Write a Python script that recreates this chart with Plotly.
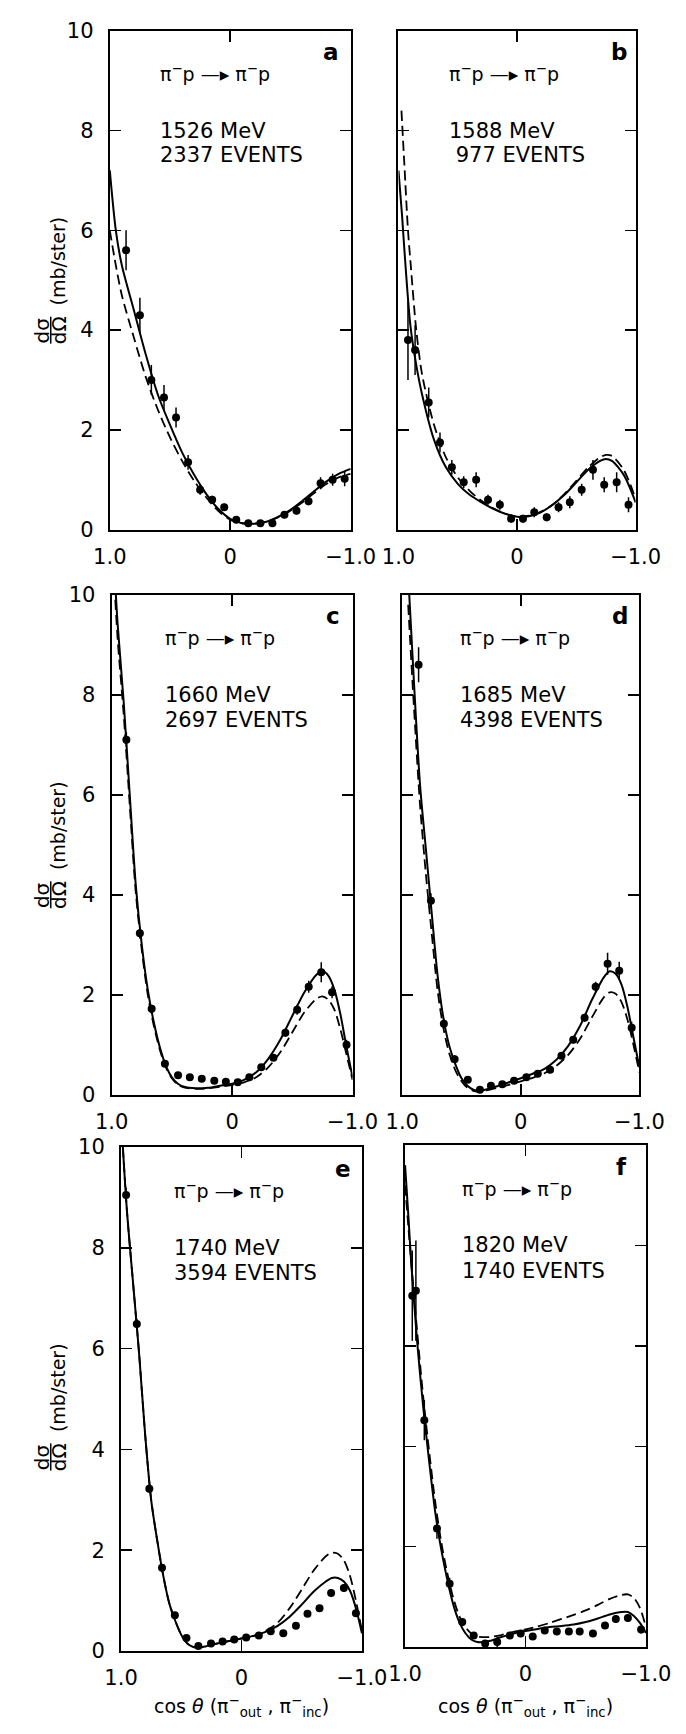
import plotly.graph_objects as go

W, H = 686, 1734

# ---------------- data ----------------
panel_ids = ["a", "b", "c", "d", "e", "f"]
energies = ["1526 MeV", "1588 MeV", "1660 MeV", "1685 MeV", "1740 MeV", "1820 MeV"]
events = ["2337 EVENTS", " 977 EVENTS", "2697 EVENTS", "4398 EVENTS", "3594 EVENTS", "1740 EVENTS"]

# panel a (1526 MeV)
a_px = [0.865, 0.75, 0.655, 0.55, 0.45, 0.35, 0.25, 0.15, 0.05, -0.05, -0.15, -0.25, -0.35, -0.45, -0.55, -0.65, -0.75, -0.85, -0.95]
a_py = [5.6, 4.3, 3.0, 2.65, 2.25, 1.35, 0.8, 0.6, 0.45, 0.2, 0.13, 0.13, 0.13, 0.3, 0.38, 0.57, 0.93, 1.0, 1.02]
a_pe = [0.4, 0.35, 0.3, 0.25, 0.2, 0.15, 0.1, 0.08, 0.07, 0.05, 0.05, 0.05, 0.05, 0.06, 0.07, 0.08, 0.12, 0.12, 0.15]
a_cx = [1.0, 0.95, 0.9, 0.8, 0.7, 0.6, 0.5, 0.4, 0.3, 0.2, 0.1, 0.0, -0.1, -0.2, -0.3, -0.4, -0.5, -0.6, -0.7, -0.8, -0.9, -1.0]
a_solid = [7.2, 6.0, 5.3, 4.4, 3.5, 2.7, 2.1, 1.55, 1.1, 0.72, 0.42, 0.22, 0.13, 0.12, 0.16, 0.26, 0.4, 0.58, 0.78, 0.97, 1.12, 1.22]
a_dash = [6.0, 5.3, 4.7, 3.85, 3.05, 2.4, 1.85, 1.38, 0.98, 0.65, 0.38, 0.2, 0.13, 0.12, 0.16, 0.25, 0.38, 0.55, 0.74, 0.92, 1.05, 1.12]

# panel b (1588 MeV)
b_px = [0.92, 0.86, 0.745, 0.65, 0.55, 0.45, 0.345, 0.245, 0.145, 0.05, -0.05, -0.145, -0.25, -0.35, -0.445, -0.545, -0.64, -0.735, -0.84, -0.94]
b_py = [3.8, 3.6, 2.55, 1.75, 1.25, 0.95, 1.0, 0.6, 0.5, 0.22, 0.22, 0.35, 0.25, 0.45, 0.55, 0.8, 1.2, 0.9, 0.95, 0.5]
b_pe = [0.8, 0.5, 0.3, 0.2, 0.15, 0.12, 0.15, 0.1, 0.1, 0.08, 0.08, 0.1, 0.08, 0.1, 0.12, 0.12, 0.2, 0.15, 0.2, 0.15]
b_sx = [1.0, 0.97, 0.95, 0.9, 0.85, 0.8, 0.7, 0.6, 0.5, 0.4, 0.3, 0.2, 0.1, 0.0, -0.1, -0.2, -0.3, -0.4, -0.5, -0.6, -0.7, -0.75, -0.8, -0.9, -1.0]
b_solid = [7.2, 6.3, 5.6, 4.1, 3.3, 2.7, 1.8, 1.25, 0.92, 0.7, 0.55, 0.42, 0.32, 0.26, 0.27, 0.35, 0.5, 0.7, 0.95, 1.2, 1.38, 1.42, 1.38, 1.1, 0.55]
b_dx = [0.975, 0.95, 0.92, 0.9, 0.85, 0.8, 0.7, 0.6, 0.5, 0.4, 0.3, 0.2, 0.1, 0.0, -0.1, -0.2, -0.3, -0.4, -0.5, -0.6, -0.7, -0.75, -0.8, -0.9, -1.0]
b_dash = [8.4, 7.3, 6.0, 5.4, 4.0, 3.1, 2.1, 1.45, 1.05, 0.78, 0.58, 0.43, 0.32, 0.27, 0.28, 0.36, 0.5, 0.72, 0.98, 1.25, 1.45, 1.5, 1.48, 1.2, 0.62]

# panel c (1660 MeV)
c_px = [0.878, 0.766, 0.668, 0.558, 0.449, 0.351, 0.252, 0.148, 0.052, -0.047, -0.143, -0.242, -0.343, -0.442, -0.54, -0.636, -0.74, -0.83, -0.95]
c_py = [7.1, 3.23, 1.72, 0.62, 0.39, 0.35, 0.32, 0.28, 0.26, 0.25, 0.35, 0.55, 0.74, 1.24, 1.7, 2.16, 2.45, 2.05, 1.0]
c_pe = [0.15, 0.1, 0.08, 0.05, 0.04, 0.04, 0.04, 0.04, 0.04, 0.04, 0.04, 0.05, 0.06, 0.08, 0.1, 0.12, 0.2, 0.12, 0.1]
c_cx = [0.97, 0.95, 0.9, 0.85, 0.8, 0.75, 0.7, 0.65, 0.6, 0.55, 0.5, 0.45, 0.4, 0.3, 0.2, 0.1, 0.0, -0.1, -0.2, -0.3, -0.4, -0.5, -0.6, -0.7, -0.75, -0.8, -0.85, -0.9, -0.95, -1.0]
c_solid = [10.2, 9.4, 7.85, 6.0, 4.2, 3.0, 2.1, 1.45, 0.95, 0.58, 0.35, 0.22, 0.16, 0.13, 0.14, 0.18, 0.22, 0.3, 0.45, 0.72, 1.1, 1.58, 2.05, 2.4, 2.47, 2.38, 2.1, 1.6, 0.95, 0.35]
c_dash = [9.9, 9.1, 7.6, 5.8, 4.05, 2.9, 2.0, 1.38, 0.9, 0.55, 0.33, 0.2, 0.15, 0.12, 0.13, 0.16, 0.2, 0.25, 0.35, 0.55, 0.85, 1.25, 1.65, 1.92, 1.97, 1.9, 1.7, 1.3, 0.8, 0.3]

# panel d (1685 MeV)
d_px = [0.862, 0.758, 0.649, 0.558, 0.447, 0.345, 0.252, 0.156, 0.057, -0.047, -0.143, -0.247, -0.343, -0.442, -0.538, -0.631, -0.732, -0.83, -0.935]
d_py = [8.6, 3.88, 1.42, 0.71, 0.3, 0.1, 0.18, 0.21, 0.28, 0.35, 0.42, 0.5, 0.78, 1.1, 1.54, 2.16, 2.62, 2.48, 1.34]
d_pe = [0.35, 0.15, 0.1, 0.08, 0.06, 0.05, 0.05, 0.05, 0.05, 0.05, 0.05, 0.05, 0.06, 0.07, 0.08, 0.1, 0.22, 0.18, 0.12]
d_cx = [0.95, 0.9, 0.85, 0.8, 0.75, 0.7, 0.65, 0.6, 0.55, 0.5, 0.45, 0.4, 0.35, 0.3, 0.2, 0.1, 0.0, -0.1, -0.2, -0.3, -0.4, -0.5, -0.6, -0.7, -0.75, -0.8, -0.85, -0.9, -0.95, -1.0]
d_solid = [10.4, 8.2, 6.2, 4.9, 3.6, 2.35, 1.5, 0.95, 0.6, 0.33, 0.18, 0.1, 0.08, 0.1, 0.17, 0.25, 0.33, 0.42, 0.52, 0.7, 0.98, 1.38, 1.9, 2.35, 2.47, 2.42, 2.2, 1.75, 1.15, 0.55]
d_dash = [9.8, 7.7, 5.8, 4.4, 3.2, 2.05, 1.3, 0.8, 0.48, 0.27, 0.14, 0.08, 0.06, 0.08, 0.14, 0.2, 0.27, 0.34, 0.43, 0.58, 0.8, 1.12, 1.55, 1.95, 2.05, 2.02, 1.85, 1.5, 1.0, 0.45]

# panel e (1740 MeV)
e_px = [0.958, 0.869, 0.765, 0.66, 0.553, 0.457, 0.358, 0.253, 0.157, 0.06, -0.039, -0.144, -0.243, -0.347, -0.452, -0.548, -0.648, -0.744, -0.85, -0.95]
e_py = [9.05, 6.49, 3.22, 1.65, 0.71, 0.26, 0.1, 0.15, 0.19, 0.23, 0.27, 0.31, 0.39, 0.35, 0.5, 0.74, 0.85, 1.15, 1.25, 0.75]
e_pe = [0.15, 0.1, 0.08, 0.06, 0.05, 0.04, 0.04, 0.04, 0.04, 0.04, 0.04, 0.04, 0.04, 0.04, 0.05, 0.05, 0.06, 0.07, 0.08, 0.07]
e_cx = [0.985, 0.95, 0.9, 0.85, 0.8, 0.75, 0.7, 0.65, 0.6, 0.55, 0.5, 0.45, 0.4, 0.35, 0.3, 0.2, 0.1, 0.0, -0.1, -0.2, -0.3, -0.4, -0.5, -0.6, -0.7, -0.75, -0.8, -0.85, -0.9, -0.95, -1.0]
e_solid = [10.0, 8.7, 7.3, 5.9, 4.3, 3.0, 2.2, 1.5, 0.95, 0.6, 0.32, 0.15, 0.08, 0.07, 0.09, 0.15, 0.2, 0.25, 0.3, 0.38, 0.5, 0.68, 0.92, 1.18, 1.38, 1.45, 1.45, 1.38, 1.2, 0.85, 0.35]
e_dash = [10.0, 8.7, 7.3, 5.9, 4.3, 3.0, 2.2, 1.5, 0.95, 0.6, 0.32, 0.15, 0.08, 0.07, 0.09, 0.15, 0.2, 0.25, 0.3, 0.4, 0.56, 0.85, 1.22, 1.6, 1.88, 1.95, 1.93, 1.8, 1.5, 1.0, 0.4]

# panel f (1820 MeV)
f_px = [0.94, 0.91, 0.84, 0.735, 0.63, 0.525, 0.43, 0.335, 0.235, 0.13, 0.04, -0.06, -0.16, -0.26, -0.36, -0.45, -0.56, -0.66, -0.75, -0.85, -0.96]
f_py = [7.0, 7.1, 4.52, 2.36, 1.26, 0.5, 0.23, 0.07, 0.1, 0.23, 0.27, 0.21, 0.33, 0.31, 0.31, 0.31, 0.27, 0.43, 0.56, 0.58, 0.35]
f_pe = [0.9, 1.0, 0.4, 0.2, 0.12, 0.08, 0.06, 0.05, 0.1, 0.06, 0.05, 0.05, 0.05, 0.05, 0.05, 0.05, 0.05, 0.06, 0.08, 0.08, 0.08]
f_cx = [1.0, 0.97, 0.95, 0.9, 0.85, 0.8, 0.75, 0.7, 0.65, 0.6, 0.55, 0.5, 0.45, 0.4, 0.3, 0.2, 0.1, 0.0, -0.1, -0.2, -0.3, -0.4, -0.5, -0.6, -0.7, -0.8, -0.85, -0.9, -0.95, -1.0]
f_solid = [9.6, 8.5, 7.7, 6.1, 4.8, 3.7, 2.7, 1.95, 1.35, 0.85, 0.5, 0.28, 0.15, 0.1, 0.12, 0.2, 0.27, 0.32, 0.36, 0.4, 0.42, 0.45, 0.5, 0.57, 0.65, 0.7, 0.7, 0.62, 0.48, 0.28]
f_dash = [9.2, 8.3, 7.7, 6.3, 5.0, 3.9, 2.9, 2.1, 1.48, 0.98, 0.62, 0.4, 0.27, 0.21, 0.2, 0.24, 0.3, 0.35, 0.41, 0.48, 0.56, 0.64, 0.73, 0.84, 0.96, 1.04, 1.05, 0.98, 0.78, 0.4]

y_ticks = [0, 2, 4, 6, 8, 10]
y_ticktext = ["0", "2", "4", "6", "8", "10"]
x_ticks = [1.0, 0.0, -1.0]
x_ticktext = ["1.0", "0", "\u22121.0"]

points = [(a_px, a_py, a_pe), (b_px, b_py, b_pe), (c_px, c_py, c_pe),
          (d_px, d_py, d_pe), (e_px, e_py, e_pe), (f_px, f_py, f_pe)]
solids = [(a_cx, a_solid), (b_sx, b_solid), (c_cx, c_solid), (d_cx, d_solid), (e_cx, e_solid), (f_cx, f_solid)]
dashes = [(a_cx, a_dash), (b_dx, b_dash), (c_cx, c_dash), (d_cx, d_dash), (e_cx, e_dash), (f_cx, f_dash)]

# ---------------- layout (pixel boxes: left, right, top, bottom) ----------------
boxes = [(99, 356, 19, 525), (407, 660, 19, 525),
         (101, 358, 591, 1098), (411, 664, 591, 1098),
         (111, 368, 1151, 1662), (414, 671, 1149, 1658)]
text_x = [0.6, 0.59, 0.57, 0.53, 0.58, 0.545]
letter_x = [-0.84, -0.86, -0.84, -0.84, -0.84, -0.8]

FONT = "DejaVu Sans"
fig = go.Figure()
layout = dict(width=W, height=H, margin=dict(l=0, r=0, t=0, b=0),
              plot_bgcolor="white", paper_bgcolor="white", showlegend=False, hovermode=False)
annotations = []
shapes = []

for i, pid in enumerate(panel_ids):
    k = "" if i == 0 else str(i + 1)
    xa, ya = "x" + k, "y" + k
    l, r, t, b = boxes[i]
    left_col = i % 2 == 0

    sx, sy = solids[i]
    dx, dy = dashes[i]
    px, py, pe = points[i]
    fig.add_trace(go.Scatter(x=dx, y=dy, mode="lines", xaxis=xa, yaxis=ya,
                             line=dict(color="black", width=1.8, dash="10px,5px", shape="spline", smoothing=0.8)))
    fig.add_trace(go.Scatter(x=sx, y=sy, mode="lines", xaxis=xa, yaxis=ya,
                             line=dict(color="black", width=2, shape="spline", smoothing=0.8)))
    fig.add_trace(go.Scatter(x=px, y=py, mode="markers", xaxis=xa, yaxis=ya,
                             marker=dict(color="black", size=8),
                             error_y=dict(type="data", array=pe, width=0, thickness=1.5, color="black")))

    layout["xaxis" + k] = dict(domain=[l / W, r / W], anchor=ya, range=[1.0, -1.0],
                               tickvals=x_ticks, ticktext=x_ticktext, ticks="inside", ticklen=11,
                               tickwidth=1.5, tickcolor="black", showline=True, linewidth=2,
                               linecolor="black", mirror="ticks", showgrid=False, zeroline=False,
                               tickfont=dict(family=FONT, size=21, color="black"), ticklabelstandoff=7)
    layout["yaxis" + k] = dict(domain=[1 - b / H, 1 - t / H], anchor=xa, range=[0, 10],
                               tickvals=y_ticks, ticktext=y_ticktext, ticks="inside", ticklen=11,
                               tickwidth=1.5, tickcolor="black", showline=True, linewidth=2,
                               linecolor="black", mirror="ticks", showgrid=False, zeroline=False,
                               showticklabels=left_col,
                               tickfont=dict(family=FONT, size=21, color="black"), ticklabelstandoff=10)

    # texts inside panel
    annotations.append(dict(xref=xa, yref=ya, x=letter_x[i], y=9.57, xanchor="center", yanchor="middle",
                            text="<b>" + pid + "</b>",
                            showarrow=False, font=dict(family=FONT, size=23, color="black")))
    annotations.append(dict(xref=xa, yref=ya, x=text_x[i], y=9.15, xanchor="left", yanchor="middle",
                            text="\u03c0<sup>\u2212</sup>p \u2014\u25b8 \u03c0<sup>\u2212</sup>p",
                            showarrow=False, font=dict(family=FONT, size=19, color="black")))
    annotations.append(dict(xref=xa, yref=ya, x=text_x[i], y=8.0, xanchor="left", yanchor="middle",
                            text=energies[i],
                            showarrow=False, font=dict(family=FONT, size=21, color="black")))
    annotations.append(dict(xref=xa, yref=ya, x=text_x[i], y=7.5, xanchor="left", yanchor="middle",
                            text=events[i].replace(" ", "&nbsp;", 1) if events[i].startswith(" ") else events[i],
                            showarrow=False, font=dict(family=FONT, size=21, color="black")))

    # y-axis title for left column
    if left_col:
        yfrac = 4.0 if i < 4 else 3.85
        annotations.append(dict(xref="paper", yref=ya, x=27 / W, y=yfrac, xanchor="center", yanchor="middle",
                                text="d\u03c3", textangle=-90,
                                showarrow=False, font=dict(family=FONT, size=20, color="black")))
        annotations.append(dict(xref="paper", yref=ya, x=45 / W, y=yfrac, xanchor="center", yanchor="middle",
                                text="d\u03a9", textangle=-90,
                                showarrow=False, font=dict(family=FONT, size=20, color="black")))
        annotations.append(dict(xref="paper", yref=ya, x=44 / W, y=yfrac + 0.45, xanchor="center",
                                yanchor="bottom", text="(mb/ster)", textangle=-90,
                                showarrow=False, font=dict(family=FONT, size=19, color="black")))
        shapes.append(dict(type="line", xref="paper", yref=ya, x0=36 / W, x1=36 / W,
                           y0=yfrac - 0.27, y1=yfrac + 0.27, line=dict(color="black", width=1.5)))

    # x-axis title for bottom row
    if i >= 4:
        annotations.append(dict(xref="paper", yref="paper", x=((l + r) / 2) / W, y=1 - 1718 / H,
                                xanchor="center", yanchor="middle",
                                text="cos <i>\u03b8</i> (\u03c0<sup>\u2212</sup><sub>out</sub> , \u03c0<sup>\u2212</sup><sub>inc</sub>)",
                                showarrow=False, font=dict(family=FONT, size=19, color="black")))

layout["annotations"] = annotations
layout["shapes"] = shapes
fig.update_layout(**layout)
fig.write_html("out.html", config={"displayModeBar": False, "staticPlot": True},
               post_script="document.body.style.margin='0';")
